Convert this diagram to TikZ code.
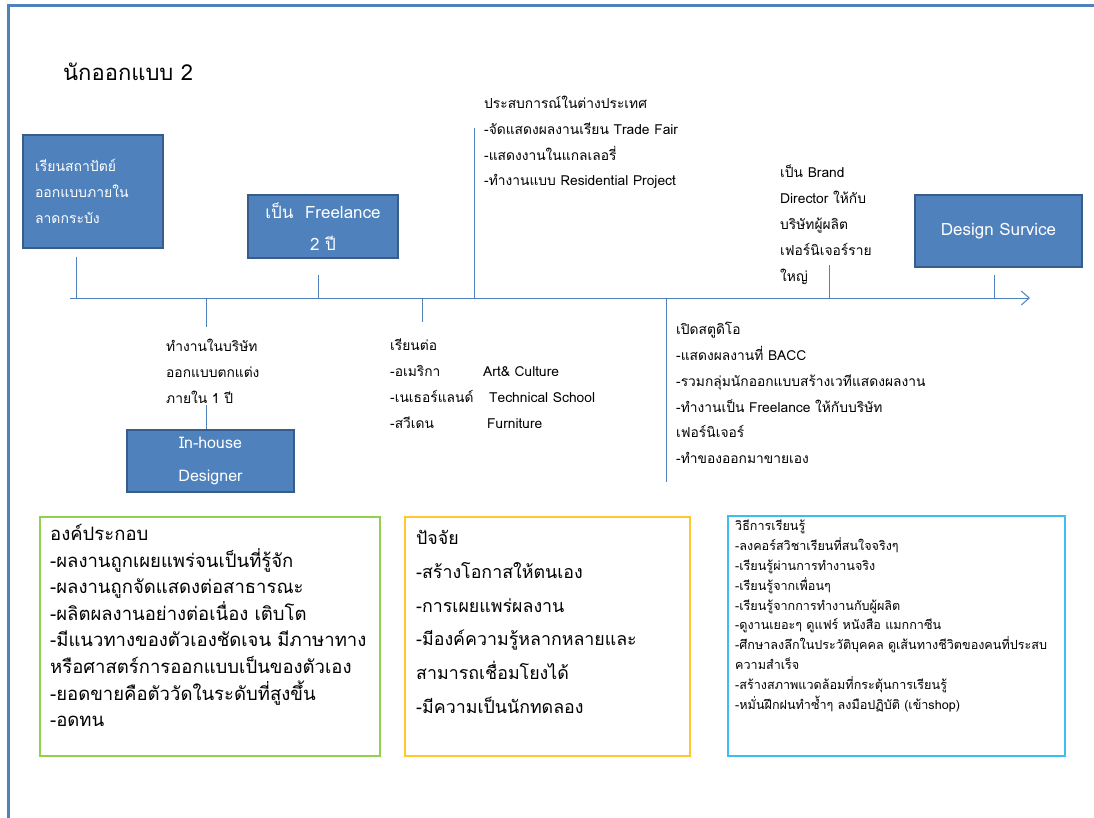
\documentclass[tikz,border=0pt]{standalone}
\usepackage{fontspec}
\usepackage{xcolor}
\setmainfont[Script=Thai]{Loma}
\usetikzlibrary{arrows.meta}

\definecolor{stageblue}{RGB}{79,129,189}
\definecolor{stageedge}{RGB}{56,93,138}
\definecolor{leafgreen}{RGB}{146,208,80}
\definecolor{goldline}{RGB}{255,200,50}
\definecolor{skyline}{RGB}{60,190,240}

\tikzset{
	stage/.style={draw=stageedge, line width=2pt, fill=stageblue, text=white, inner sep=0pt},
	tick/.style={draw=stageblue, line width=1pt},
	note/.style={anchor=north west, align=left, inner sep=0pt, font=\fontsize{13.8}{25.8}\selectfont},
	panel/.style={draw=#1, line width=1.2pt, inner sep=0pt},
}

\begin{document}
\begin{tikzpicture}[x=1pt, y=-1pt]
	\useasboundingbox (0,0) rectangle (1094,818);
	\draw[stageblue, line width=3pt] (8,818) -- (8,6) -- (1094,6);
	\node[anchor=west, inner sep=0pt, font=\fontsize{22}{26}\selectfont] (title) at (63,72) {นักออกแบบ 2};

	% timeline
	\coordinate (start) at (70,298);
	\coordinate (finish) at (1030,298);
	\draw[tick, -{Straight Barb[length=8pt, width=14pt]}] (start) -- (finish);

	% stages above the line
	\node[stage, minimum width=140, minimum height=113, text width=116, align=left, font=\fontsize{14}{26}\selectfont] (study) at (93,191.5) {เรียนสถาปัตย์\\ออกแบบภายใน\\ลาดกระบัง};
	\node[stage, minimum width=150, minimum height=63, align=center, font=\fontsize{17}{32}\selectfont] (freelance) at (323,226.5) {เป็น \ Freelance\\2 ปี};
	\node[stage, minimum width=167, minimum height=71, font=\fontsize{17}{20}\selectfont] (service) at (998.5,231) {Design Survice};
	\node[note] (abroad) at (484,96) {ประสบการณ์ในต่างประเทศ\\-จัดแสดงผลงานเรียน Trade Fair\\-แสดงงานในแกลเลอรี่\\-ทำงานแบบ Residential Project};
	\node[note] (brand) at (780,165) {เป็น Brand\\Director ให้กับ\\บริษัทผู้ผลิต\\เฟอร์นิเจอร์ราย\\ใหญ่};

	% stages below the line
	\node[note] (company) at (166,339) {ทำงานในบริษัท\\ออกแบบตกแต่ง\\ภายใน 1 ปี};
	\node[stage, minimum width=167, minimum height=62, align=center, font=\fontsize{16}{33}\selectfont] (inhouse) at (210.5,461) {In-house\\Designer};
	\node[note] (further) at (390,339) {เรียนต่อ\\\makebox[93pt][l]{-อเมริกา}Art\& Culture\\\makebox[99pt][l]{-เนเธอร์แลนด์}Technical School\\\makebox[97pt][l]{-สวีเดน}Furniture};
	\node[note] (studio) at (676,322) {เปิดสตูดิโอ\\-แสดงผลงานที่ BACC\\-รวมกลุ่มนักออกแบบสร้างเวทีแสดงผลงาน\\-ทำงานเป็น Freelance ให้กับบริษัท\\เฟอร์นิเจอร์\\-ทำของออกมาขายเอง};

	% ticks
	\coordinate (t1) at (76,298);
	\coordinate (t2) at (206,298);
	\coordinate (t3) at (318,298);
	\coordinate (t4) at (422,298);
	\coordinate (t5) at (474,298);
	\coordinate (t6) at (666,298);
	\coordinate (t7) at (829,298);
	\coordinate (t8) at (994,298);
	\draw[tick] (76,257) -- (t1);
	\draw[tick] (t2) -- (206,327);
	\draw[tick] (206,405) -- (inhouse.north -| t2);
	\draw[tick] (318,275) -- (t3);
	\draw[tick] (t4) -- (422,322);
	\draw[tick] (474,128) -- (t5);
	\draw[tick] (t6) -- (666,482);
	\draw[tick] (829,265) -- (t7);
	\draw[tick] (994,275) -- (t8);

	% summary panels
	\node[panel=leafgreen, minimum width=340, minimum height=239] (parts) at (210,636.5) {};
	\node[note, font=\fontsize{18.5}{26.6}\selectfont] (partstext) at (50,524) {องค์ประกอบ\\-ผลงานถูกเผยแพร่จนเป็นที่รู้จัก\\-ผลงานถูกจัดแสดงต่อสาธารณะ\\-ผลิตผลงานอย่างต่อเนื่อง เติบโต\\-มีแนวทางของตัวเองชัดเจน มีภาษาทาง\\หรือศาสตร์การออกแบบเป็นของตัวเอง\\-ยอดขายคือตัววัดในระดับที่สูงขึ้น\\-อดทน};
	\node[panel=goldline, minimum width=285, minimum height=239] (factors) at (547.5,636.5) {};
	\node[note, font=\fontsize{17.8}{33.8}\selectfont] (factorstext) at (416,530) {ปัจจัย\\-สร้างโอกาสให้ตนเอง\\-การเผยแพร่ผลงาน\\-มีองค์ความรู้หลากหลายและ\\สามารถเชื่อมโยงได้\\-มีความเป็นนักทดลอง};
	\node[panel=skyline, minimum width=337, minimum height=240] (learning) at (896.5,636) {};
	\node[note, font=\fontsize{12.6}{19.8}\selectfont] (learningtext) at (735,520) {วิธีการเรียนรู้\\-ลงคอร์สวิชาเรียนที่สนใจจริงๆ\\-เรียนรู้ผ่านการทำงานจริง\\-เรียนรู้จากเพื่อนๆ\\-เรียนรู้จากการทำงานกับผู้ผลิต\\-ดูงานเยอะๆ ดูแฟร์ หนังสือ แมกกาซีน\\-ศึกษาลงลึกในประวัติบุคคล ดูเส้นทางชีวิตของคนที่ประสบ\\ความสำเร็จ\\-สร้างสภาพแวดล้อมที่กระตุ้นการเรียนรู้\\-หมั่นฝึกฝนทำซ้ำๆ ลงมือปฏิบัติ (เข้าshop)};
\end{tikzpicture}
\end{document}
